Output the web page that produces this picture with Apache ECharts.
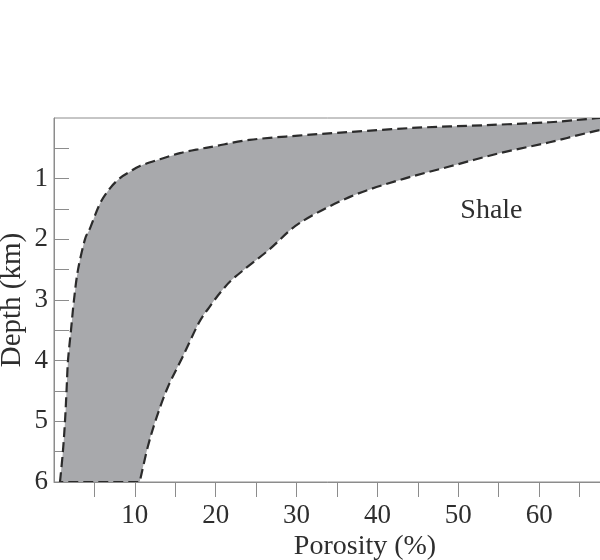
<!DOCTYPE html>
<html>
<head>
<meta charset="utf-8">
<script src="https://cdn.jsdelivr.net/npm/echarts@6/dist/echarts.min.js"></script>
<style>
html,body{margin:0;padding:0;background:#fff;}
#chart{width:600px;height:560px;}
</style>
</head>
<body>
<div id="chart"></div>
<script>
// Left (low-porosity) boundary of the shale band, from bottom to top
var leftDepth    = [6.0, 5.5, 5.0, 4.5, 4.0, 3.5, 3.0, 2.5, 2.0, 1.82, 1.41, 1.16, 0.99, 0.885, 0.79, 0.68, 0.58, 0.51, 0.46, 0.36, 0.29, 0.23, 0.16, 0.12, 0.07, 0.0, -0.02];
var leftPorosity = [0.74, 1.1, 1.36, 1.55, 1.73, 2.1, 2.47, 2.97, 3.83, 4.45, 5.69, 6.92, 8.16, 9.39, 10.63, 13.1, 15.57, 18.05, 20.1, 24.2, 30.2, 36.6, 44.9, 53.0, 61.3, 67.5, 72.0];
// Right (high-porosity) boundary, from top to bottom
var rightDepth    = [0.12, 0.20, 0.40, 0.58, 0.80, 1.02, 1.30, 1.73, 2.17, 2.62, 2.84, 3.12, 3.38, 3.94, 4.43, 4.93, 5.42, 6.0];
var rightPorosity = [72.0, 67.5, 61.3, 55.1, 48.9, 42.8, 36.6, 30.4, 26.6, 22.4, 20.8, 19.2, 17.9, 15.9, 14.1, 12.7, 11.6, 10.6];

var xLabelValues = [10, 20, 30, 40, 50, 60];
var xTickValues = [5, 10, 15, 20, 25, 30, 35, 40, 45, 50, 55, 60, 65];
var yLabelValues = [1, 2, 3, 4, 5, 6];
var yTickValues = [0.5, 1, 1.5, 2, 2.5, 3, 3.5, 4, 4.5, 5, 5.5];

var annotationText = ['Shale'];
var annotationPos = [[54.1, 1.52]];

var leftPts = leftDepth.map(function (d, i) { return [leftPorosity[i], d]; });
var rightPts = rightDepth.map(function (d, i) { return [rightPorosity[i], d]; });

var serif = '"Liberation Serif", "DejaVu Serif", serif';
var textColor = '#2e2e2e';
var axisColor = '#8c8c8c';

// Catmull-Rom spline through pixel points -> SVG path commands
function splinePath(P, start) {
  var s = start ? 'M' + P[0][0] + ' ' + P[0][1] : 'L' + P[0][0] + ' ' + P[0][1];
  for (var i = 0; i < P.length - 1; i++) {
    var p0 = P[i - 1] || P[i], p1 = P[i], p2 = P[i + 1], p3 = P[i + 2] || P[i + 1];
    var c1x = p1[0] + (p2[0] - p0[0]) / 6, c1y = p1[1] + (p2[1] - p0[1]) / 6;
    var c2x = p2[0] - (p3[0] - p1[0]) / 6, c2y = p2[1] - (p3[1] - p1[1]) / 6;
    s += ' C' + c1x + ' ' + c1y + ' ' + c2x + ' ' + c2y + ' ' + p2[0] + ' ' + p2[1];
  }
  return s;
}

var chart = echarts.init(document.getElementById('chart'), null, {renderer: 'canvas'});
chart.setOption({
  backgroundColor: '#fff',
  animation: false,
  grid: {
    left: 54, top: 118, right: -20, bottom: 78,
    outerBoundsMode: 'none', containLabel: false,
    show: true, borderColor: axisColor, borderWidth: 1, backgroundColor: 'transparent'
  },
  xAxis: {
    type: 'value', min: 0, max: 70, interval: 10,
    name: 'Porosity (%)', nameLocation: 'middle', nameGap: 51, nameMoveOverlap: false,
    nameTextStyle: {fontFamily: serif, fontSize: 28, color: textColor, padding: [0, 0, 0, 56]},
    axisLine: {show: true, onZero: false, lineStyle: {color: axisColor, width: 1}},
    axisTick: {show: true, inside: false, length: 15, customValues: xTickValues, lineStyle: {color: axisColor, width: 1}},
    axisLabel: {show: true, margin: 20, customValues: xLabelValues, fontFamily: serif, fontSize: 27, color: textColor},
    splitLine: {show: false}
  },
  yAxis: {
    type: 'value', min: 0, max: 6, interval: 1, inverse: true,
    name: 'Depth (km)', nameLocation: 'middle', nameGap: 27, nameRotate: 90, nameMoveOverlap: false,
    nameTextStyle: {fontFamily: serif, fontSize: 29, color: textColor},
    axisLine: {show: true, onZero: false, lineStyle: {color: axisColor, width: 1}},
    axisTick: {show: true, inside: true, length: 15, customValues: yTickValues, lineStyle: {color: axisColor, width: 1}},
    axisLabel: {show: true, margin: 6, customValues: yLabelValues, fontFamily: serif, fontSize: 27, color: textColor},
    splitLine: {show: false}
  },
  series: [
    {
      type: 'custom',
      clip: true,
      data: leftPts.concat(rightPts),
      encode: {x: 0, y: 1},
      renderItem: function (params, api) {
        if (params.dataIndex !== 0) return null;
        var L = leftPts.map(function (p) { return api.coord(p); });
        var R = rightPts.map(function (p) { return api.coord(p); });
        var d = splinePath(L, true) + ' ' + splinePath(R, false) + ' Z';
        return {
          type: 'path',
          shape: {pathData: d},
          style: {fill: '#a8a9ac', stroke: '#2b2b2b', lineWidth: 2.2, lineDash: [10, 5]}
        };
      },
      z: 1
    },
    {
      type: 'scatter',
      data: annotationPos,
      symbolSize: 0,
      silent: true,
      itemStyle: {opacity: 1, color: textColor},
      label: {
        show: true, position: 'inside', opacity: 1,
        textBorderWidth: 0,
        formatter: function (p) { return annotationText[p.dataIndex]; },
        fontFamily: serif, fontSize: 28, color: textColor
      },
      z: 3
    }
  ]
});
</script>
</body>
</html>
